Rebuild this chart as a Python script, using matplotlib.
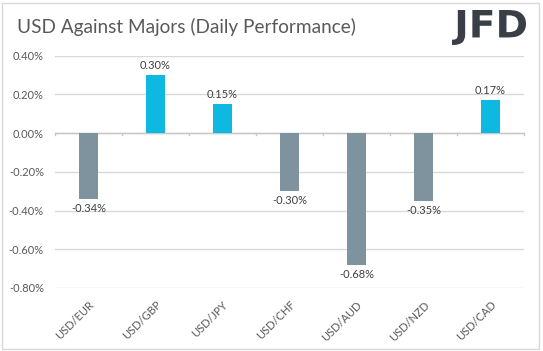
import matplotlib
matplotlib.use("Agg")
import matplotlib.pyplot as plt
from matplotlib.patches import Rectangle, PathPatch
from matplotlib.textpath import TextPath
from matplotlib.font_manager import FontProperties
from matplotlib.transforms import Affine2D, IdentityTransform

# Daily performance of USD against the majors (percent)
pairs = ["USD/EUR", "USD/GBP", "USD/JPY", "USD/CHF", "USD/AUD", "USD/NZD", "USD/CAD"]
changes = [-0.34, 0.30, 0.15, -0.30, -0.68, -0.35, 0.17]
yticks = [0.40, 0.20, 0.00, -0.20, -0.40, -0.60, -0.80]

pos_color = "#0DB9E0"
neg_color = "#7F939E"
text_color = "#595959"
grid_color = "#D9D9D9"

plt.rcParams["font.family"] = ["Lato", "DejaVu Sans"]

W, H = 543, 351
fig = plt.figure(figsize=(W / 100, H / 100), dpi=100)
ax = fig.add_axes([55 / W, 1 - 288 / H, 469 / W, (288 - 55.5) / H])

x = list(range(len(pairs)))
colors = [pos_color if v >= 0 else neg_color for v in changes]
ax.bar(x, changes, width=0.29, color=colors, zorder=3)

# value labels above / below each bar
for xi, v in zip(x, changes):
    if v >= 0:
        ax.annotate(f"{v:.2f}%", (xi, v), xytext=(0, 3), textcoords="offset points",
                    ha="center", va="bottom", fontsize=8, color="#404040")
    else:
        ax.annotate(f"{v:.2f}%", (xi, v), xytext=(0, -3), textcoords="offset points",
                    ha="center", va="top", fontsize=8, color="#404040")

ax.set_xlim(-0.5, len(pairs) - 0.5)
ax.set_ylim(min(yticks), max(yticks))
ax.set_yticks(yticks)
ax.set_yticklabels([f"{t:.2f}%" for t in yticks])
ax.set_xticks(x)
ax.set_xticklabels(pairs, rotation=45, ha="right", rotation_mode="anchor")
ax.tick_params(axis="both", length=0, labelsize=8, labelcolor=text_color)
ax.tick_params(axis="y", pad=8)
ax.tick_params(axis="x", pad=8)

ax.grid(axis="y", color=grid_color, linewidth=1, zorder=0)
ax.axhline(0, color="#C8C8C8", linewidth=1, zorder=2)
# small category-boundary ticks on the zero line
for b in range(len(pairs) + 1):
    ax.plot([b - 0.5, b - 0.5], [0, -0.012], color="#C8C8C8", linewidth=1, zorder=2,
            clip_on=False)
for s in ax.spines.values():
    s.set_visible(False)

fig.text(17 / W, 1 - 27 / H, "USD Against Majors (Daily Performance)",
         fontsize=13.7, color=text_color, ha="left", va="center")

# JFD logo, text path squeezed into the logo box (pixels, y from bottom)
tp = TextPath((0, 0), "JFD", size=40,
              prop=FontProperties(family=["Liberation Sans Narrow", "DejaVu Sans"],
                                  weight="bold"))
ext = tp.get_extents()
x0, x1, y0, y1 = 452, 526, H - 45, H - 10
sx = (x1 - x0) / ext.width
sy = (y1 - y0) / ext.height
tr = Affine2D().translate(-ext.x0, -ext.y0).scale(sx, sy).translate(x0, y0)
fig.patches.append(PathPatch(tr.transform_path(tp), transform=IdentityTransform(),
                             facecolor="#3A3F47", edgecolor="none"))

# outer frame
fig.patches.append(Rectangle((2 / W, 2 / H), 537 / W, 346 / H,
                             transform=fig.transFigure, fill=False,
                             edgecolor="#D9D9D9", linewidth=1))

fig.savefig("out.png", dpi=100)
